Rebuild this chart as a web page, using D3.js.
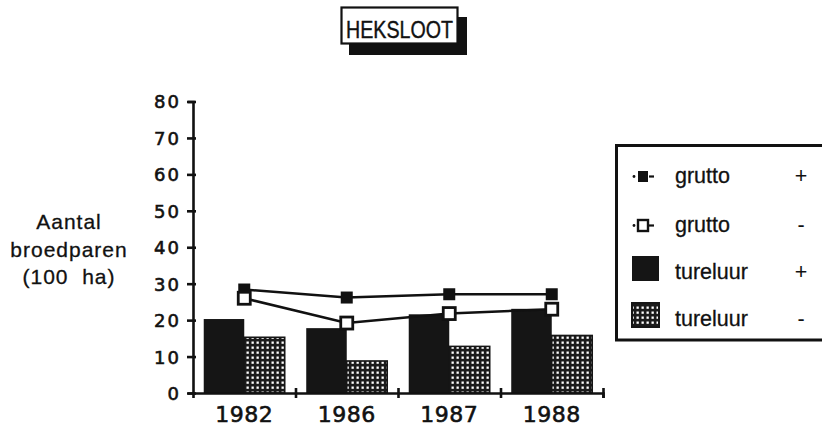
<!DOCTYPE html>
<html><head><meta charset="utf-8">
<script src="https://cdn.jsdelivr.net/npm/d3@7"></script>
<style>html,body{margin:0;padding:0;background:#fff;} svg{display:block;}</style>
</head><body>
<script>
const years = ["1982", "1986", "1987", "1988"];
const gruttoPlus = [28.4, 26.2, 27.1, 27.1];
const gruttoMin = [26.0, 19.2, 21.8, 23.0];
const tureluurPlus = [20.3, 17.8, 21.6, 23.1];
const tureluurMin = [15.3, 8.8, 12.8, 15.8];
const yTicks = [0, 10, 20, 30, 40, 50, 60, 70, 80];
const title = "HEKSLOOT";
const yLabelLines = ["Aantal", "broedparen", "(100  ha)"];
const legendNames = ["grutto", "grutto", "tureluur", "tureluur"];
const legendSigns = ["+", "-", "+", "-"];

const W = 822, H = 433;
const svg = d3.select("body").append("svg").attr("width", W).attr("height", H);
svg.append("rect").attr("width", W).attr("height", H).attr("fill", "#fff");

const defs = svg.append("defs");
const pat = defs.append("pattern").attr("id", "dots").attr("patternUnits", "userSpaceOnUse")
  .attr("width", 5).attr("height", 5);
pat.append("rect").attr("width", 5).attr("height", 5).attr("fill", "#1a1a1a");
pat.append("rect").attr("x", 1.5).attr("y", 1.5).attr("width", 2.3).attr("height", 2.3).attr("fill", "#fff");

const x0 = d3.scaleBand().domain(years).range([193, 603]).paddingInner(0).paddingOuter(0);
const series = ["plus", "min"];
const x1 = d3.scaleBand().domain(series).range([0, x0.bandwidth()]).paddingInner(0).paddingOuter(0.265);
const y = d3.scaleLinear().domain([0, 80]).range([393, 101.5]);
const xb = d3.scaleLinear().domain([0, 4]).range([193, 603]);

// Title
const tg = svg.append("g");
tg.append("rect").attr("x", 349).attr("y", 17).attr("width", 118).attr("height", 38).attr("fill", "#111");
tg.append("rect").attr("x", 341.5).attr("y", 7.5).attr("width", 116).attr("height", 36)
  .attr("fill", "#fff").attr("stroke", "#111").attr("stroke-width", 2.2);
tg.append("text").attr("x", 346).attr("y", 37.5).attr("font-family", "Liberation Sans, Arial, sans-serif")
  .attr("font-size", 24).attr("textLength", 107).attr("lengthAdjust", "spacingAndGlyphs")
  .attr("fill", "#111").attr("stroke", "#111").attr("stroke-width", 0.4).text(title);

// Bars
const bars = svg.append("g");
years.forEach((yr, i) => {
  bars.append("rect").attr("x", x0(yr) + x1("plus")).attr("y", y(tureluurPlus[i]))
    .attr("width", x1.bandwidth()).attr("height", y(0) - y(tureluurPlus[i])).attr("fill", "#151515");
  bars.append("rect").attr("x", x0(yr) + x1("min")).attr("y", y(tureluurMin[i]))
    .attr("width", x1.bandwidth()).attr("height", y(0) - y(tureluurMin[i])).attr("fill", "url(#dots)")
    .attr("stroke", "#151515").attr("stroke-width", 1.5);
});

// Axes
const yAxis = svg.append("g").attr("transform", "translate(193,0)")
  .call(d3.axisLeft(y).tickValues(yTicks).tickSizeOuter(0).tickSize(5).tickPadding(10));
yAxis.select(".domain").attr("stroke", "#111").attr("stroke-width", 2.6);
yAxis.selectAll(".tick line").attr("x1", 3).attr("x2", -6).attr("stroke", "#111").attr("stroke-width", 2.6);
yAxis.selectAll(".tick text").attr("font-family", "DejaVu Sans, sans-serif").attr("font-size", 18)
  .attr("stroke", "#111").attr("stroke-width", 0.6)
  .attr("letter-spacing", 2).attr("fill", "#111").attr("dy", "0.36em").attr("x", -12);

const xAxis = svg.append("g").attr("transform", "translate(0,393)")
  .call(d3.axisBottom(xb).tickValues([1, 2, 3, 4]).tickSizeOuter(0).tickSize(5).tickFormat(""));
xAxis.select(".domain").attr("stroke", "#111").attr("stroke-width", 2.6);
xAxis.selectAll(".tick line").attr("y1", -5).attr("y2", 5).attr("stroke", "#111").attr("stroke-width", 2.6);

const xLab = svg.append("g").attr("transform", "translate(0,393)")
  .call(d3.axisBottom(x0).tickSize(0).tickPadding(14));
xLab.select(".domain").remove();
xLab.selectAll(".tick text").attr("font-family", "DejaVu Sans, sans-serif").attr("font-size", 22)
  .attr("stroke", "#111").attr("stroke-width", 0.6)
  .attr("letter-spacing", 0.5).attr("fill", "#111").attr("dy", "0.71em").attr("y", 13);

// Lines
const cx = d => x0(d) + x0.bandwidth() / 2;
const line = d3.line().x(d => cx(d[0])).y(d => y(d[1]));
const gp = years.map((d, i) => [d, gruttoPlus[i]]);
const gm = years.map((d, i) => [d, gruttoMin[i]]);
svg.append("path").attr("d", line(gp)).attr("fill", "none").attr("stroke", "#111").attr("stroke-width", 2.6);
svg.append("path").attr("d", line(gm)).attr("fill", "none").attr("stroke", "#111").attr("stroke-width", 2.6);
svg.selectAll(".mp").data(gp).enter().append("rect")
  .attr("x", d => cx(d[0]) - 6).attr("y", d => y(d[1]) - 6).attr("width", 12).attr("height", 12).attr("fill", "#111");
svg.selectAll(".mm").data(gm).enter().append("rect")
  .attr("x", d => cx(d[0]) - 6).attr("y", d => y(d[1]) - 6).attr("width", 12).attr("height", 12)
  .attr("fill", "#fff").attr("stroke", "#111").attr("stroke-width", 2.8);

// Y label
const yl = svg.append("text").attr("font-family", "Liberation Sans, Arial, sans-serif").attr("font-size", 21)
  .attr("fill", "#111").attr("stroke", "#111").attr("stroke-width", 0.3)
  .attr("text-anchor", "middle").attr("letter-spacing", 1).style("white-space", "pre");
yLabelLines.forEach((t, i) => yl.append("tspan").attr("x", 69).attr("y", 229 + i * 27.5).text(t));

// Legend
const lg = svg.append("g");
lg.append("rect").attr("x", 616.5).attr("y", 145.5).attr("width", 220).attr("height", 194.5)
  .attr("fill", "#fff").attr("stroke", "#111").attr("stroke-width", 3);
const rowY = [183, 231.5, 279, 326];
const symY = [176.5, 225.5];
[0, 1].forEach(i => {
  lg.append("circle").attr("cx", 634).attr("cy", symY[i]).attr("r", 1.4).attr("fill", "#111");
  lg.append("line").attr("x1", 649).attr("x2", 654).attr("y1", symY[i]).attr("y2", symY[i])
    .attr("stroke", "#111").attr("stroke-width", 2.2);
  lg.append("rect").attr("x", 638).attr("y", symY[i] - 5.5).attr("width", 10).attr("height", 11)
    .attr("fill", i === 0 ? "#111" : "#fff").attr("stroke", "#111").attr("stroke-width", i === 0 ? 0 : 2.4);
});
lg.append("rect").attr("x", 632).attr("y", 256).attr("width", 27).attr("height", 25).attr("fill", "#151515");
lg.append("rect").attr("x", 632).attr("y", 303).attr("width", 27).attr("height", 24).attr("fill", "url(#dots)")
  .attr("stroke", "#151515").attr("stroke-width", 2);
legendNames.forEach((n, i) => {
  lg.append("text").attr("x", 675).attr("y", rowY[i]).attr("font-family", "Liberation Sans, Arial, sans-serif")
    .attr("font-size", 21.5).attr("fill", "#111").attr("stroke", "#111").attr("stroke-width", 0.3).text(n);
  lg.append("text").attr("x", 801).attr("y", rowY[i]).attr("text-anchor", "middle")
    .attr("font-family", "Liberation Sans, Arial, sans-serif").attr("font-size", 21.5).attr("fill", "#111")
    .text(legendSigns[i]);
});
</script>
</body></html>
